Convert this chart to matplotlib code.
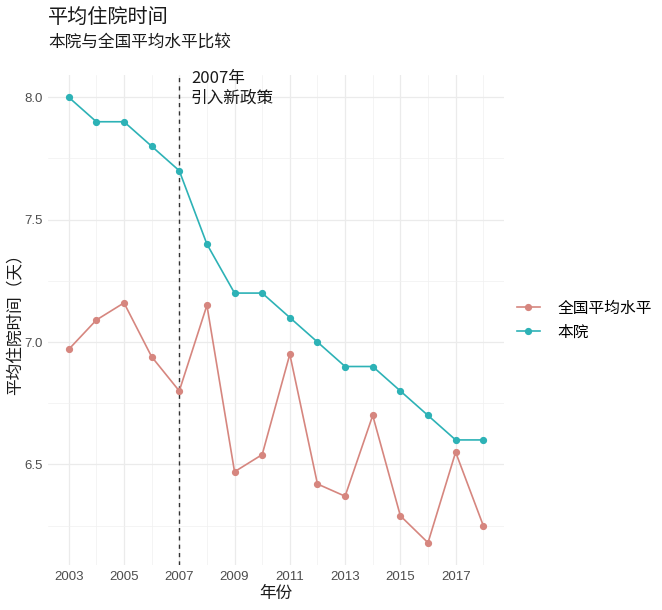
import matplotlib
matplotlib.use("Agg")
import matplotlib.pyplot as plt
from matplotlib.ticker import MultipleLocator

plt.rcParams['font.family'] = ['Noto Sans CJK SC', 'DejaVu Sans']

years = list(range(2003, 2019))
national = [6.97, 7.09, 7.16, 6.94, 6.80, 7.15, 6.47, 6.54, 6.95, 6.42, 6.37, 6.70, 6.29, 6.18, 6.55, 6.25]
hospital = [8.0, 7.9, 7.9, 7.8, 7.7, 7.4, 7.2, 7.2, 7.1, 7.0, 6.9, 6.9, 6.8, 6.7, 6.6, 6.6]
series_names = ['全国平均水平', '本院']
x_ticks = [2003, 2005, 2007, 2009, 2011, 2013, 2015, 2017]
y_ticks = [6.5, 7.0, 7.5, 8.0]
policy_year = 2007
title = '平均住院时间'
subtitle = '本院与全国平均水平比较'
annot = '2007年\n引入新政策'

colors = ['#D6867F', '#2DB2B6']

fig = plt.figure(figsize=(6.62, 6.10), dpi=100)
ax = fig.add_axes([48/662, 1-565/610, (504-48)/662, (565-75)/610])

for vals, name, c in zip([national, hospital], series_names, colors):
    ax.plot(years, vals, color=c, lw=1.2, marker='o', markersize=4.2, label=name, zorder=3)

ax.axvline(policy_year, color='#333333', lw=1.0, ls=(0, (3, 3)), zorder=2)
ax.text(policy_year + 0.42, 8.11, annot, ha='left', va='top', fontsize=12, color='#1a1a1a', linespacing=1.2)

ymin = min(national + hospital); ymax = max(national + hospital)
pad = 0.05 * (ymax - ymin)
ax.set_ylim(ymin - pad, ymax + pad)
ax.set_xlim(2003 - 0.75, 2018 + 0.75)

ax.set_xticks(x_ticks)
ax.set_yticks(y_ticks)
ax.set_yticklabels([f'{v:.1f}' for v in y_ticks])
ax.xaxis.set_minor_locator(MultipleLocator(1))
ax.yaxis.set_minor_locator(MultipleLocator(0.25))
ax.grid(which='major', color='#EBEBEB', lw=0.9)
ax.grid(which='minor', color='#F0F0F0', lw=0.5)
ax.set_axisbelow(True)
for s in ax.spines.values():
    s.set_visible(False)
ax.tick_params(which='both', length=0)
ax.tick_params(axis='both', labelsize=9.5, colors='#4D4D4D', pad=4)
for lab in ax.get_xticklabels() + ax.get_yticklabels():
    lab.set_family(['Liberation Sans', 'DejaVu Sans'])

ax.set_xlabel('年份', fontsize=12, color='#1a1a1a')
ax.xaxis.label.set_va('center')
ax.xaxis.set_label_coords(0.5, (565 - 593) / 490)
ax.set_ylabel('平均住院时间（天）', fontsize=12, color='#1a1a1a')
ax.yaxis.label.set_va('center')
ax.yaxis.set_label_coords((15 - 48) / 456, 0.5)

fig.text(48/662, 1-17/610, title, fontsize=14.5, ha='left', va='center', color='#1a1a1a')
fig.text(48/662, 1-42/610, subtitle, fontsize=12, ha='left', va='center', color='#1a1a1a')

leg = ax.legend(loc='center left', bbox_to_anchor=(1.0, 0.5), frameon=False, fontsize=11.3,
                handlelength=1.5, handletextpad=1.1, labelspacing=0.45, borderaxespad=0.4)

fig.savefig('out.png', dpi=100, facecolor='white')
